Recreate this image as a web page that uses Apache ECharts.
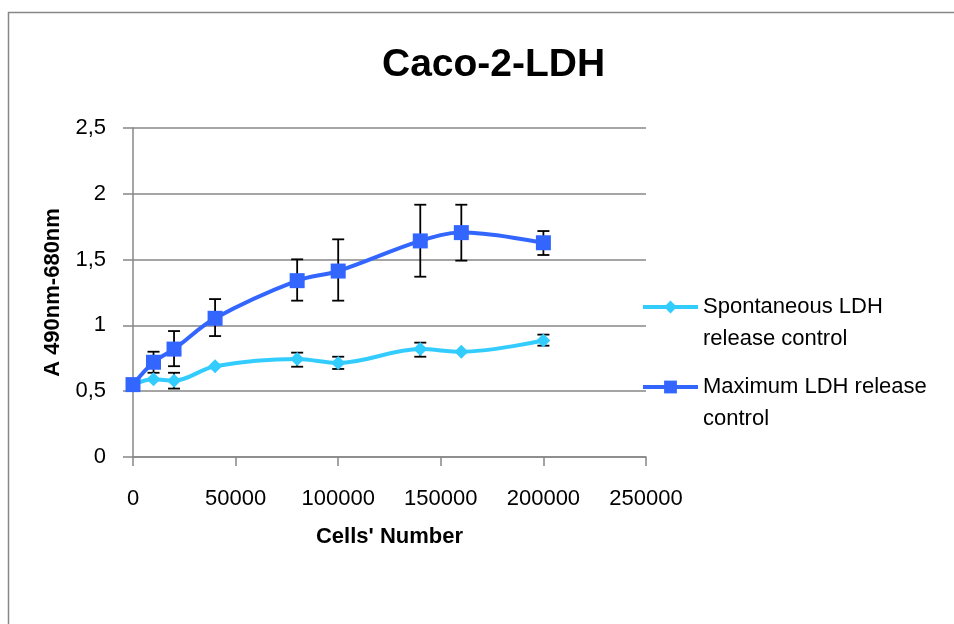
<!DOCTYPE html>
<html>
<head>
<meta charset="utf-8">
<script src="https://cdn.jsdelivr.net/npm/echarts@6/dist/echarts.min.js"></script>
<style>html,body{margin:0;padding:0;background:#fff}#c{width:954px;height:624px}</style>
</head>
<body>
<div id="c"></div>
<script>
const cells = [0, 10000, 20000, 40000, 80000, 100000, 140000, 160000, 200000];
const spontaneous = [0.55, 0.59, 0.58, 0.69, 0.745, 0.715, 0.82, 0.80, 0.885];
const spontaneousLow = [null, null, 0.52, null, 0.686, 0.669, 0.762, null, 0.846];
const spontaneousHigh = [null, null, 0.64, null, 0.793, 0.762, 0.869, null, 0.93];
const maximum = [0.55, 0.72, 0.82, 1.054, 1.34, 1.413, 1.642, 1.705, 1.628];
const maximumLow = [null, 0.64, 0.69, 0.919, 1.188, 1.188, 1.37, 1.492, 1.535];
const maximumHigh = [null, 0.80, 0.957, 1.2, 1.502, 1.654, 1.917, 1.917, 1.717];
const seriesNames = ['Spontaneous LDH release control', 'Maximum LDH release control'];
const legendLines = {
  'Spontaneous LDH release control': ['Spontaneous LDH', 'release control'],
  'Maximum LDH release control': ['Maximum LDH release', 'control']
};
const xTicks = { min: 0, max: 250000, interval: 50000 };
const yTicks = { min: 0, max: 2.5, interval: 0.5 };

const FONT = 'Liberation Sans';
const GRAY = '#878787';

function errData(lo, hi) {
  const out = [];
  cells.forEach((c, i) => { if (lo[i] != null) out.push([c, lo[i], hi[i]]); });
  return out;
}
function renderErr(params, api) {
  const x = api.value(0), lo = api.value(1), hi = api.value(2);
  const p1 = api.coord([x, hi]);
  const p2 = api.coord([x, lo]);
  const w = 6;
  const st = { stroke: '#000', lineWidth: 1.8 };
  return {
    type: 'group',
    children: [
      { type: 'line', shape: { x1: p1[0], y1: p1[1], x2: p2[0], y2: p2[1] }, style: st },
      { type: 'line', shape: { x1: p1[0] - w, y1: p1[1], x2: p1[0] + w, y2: p1[1] }, style: st },
      { type: 'line', shape: { x1: p2[0] - w, y1: p2[1], x2: p2[0] + w, y2: p2[1] }, style: st }
    ]
  };
}

const chart = echarts.init(document.getElementById('c'), null, { renderer: 'canvas' });
const legendBase = {
  orient: 'vertical',
  left: 641,
  padding: 0,
  itemWidth: 55,
  itemHeight: 16,
  itemGap: 0,
  lineStyle: { width: 4 },
  formatter: n => '\n' + legendLines[n].join('\n'),
  textStyle: { fontFamily: FONT, fontSize: 22, color: '#000', lineHeight: 32 }
};
chart.setOption({
  animation: false,
  backgroundColor: '#fff',
  graphic: [{
    type: 'rect', silent: true, z: -10,
    shape: { x: 8.5, y: 12.5, width: 2000, height: 2000 },
    style: { fill: 'none', stroke: GRAY, lineWidth: 1.5 }
  }],
  title: {
    text: 'Caco-2-LDH',
    left: 377, top: 41,
    textStyle: { fontFamily: FONT, fontWeight: 'bold', fontSize: 39, color: '#000' }
  },
  legend: [
    Object.assign({}, legendBase, { top: 259, data: [seriesNames[0]] }),
    Object.assign({}, legendBase, { top: 339, data: [seriesNames[1]] })
  ],
  grid: { left: 133, right: 308, top: 128, bottom: 167, containLabel: false },
  xAxis: {
    type: 'value', min: xTicks.min, max: xTicks.max, interval: xTicks.interval,
    name: "Cells' Number", nameLocation: 'middle', nameGap: 69,
    nameTextStyle: { fontFamily: FONT, fontWeight: 'bold', fontSize: 22, color: '#000' },
    axisLine: { lineStyle: { color: GRAY, width: 1.5 } },
    axisTick: { show: true, length: 9, lineStyle: { color: GRAY, width: 1.5 } },
    axisLabel: { fontFamily: FONT, fontSize: 22, color: '#000', margin: 31,
      formatter: v => String(v) },
    splitLine: { show: false }
  },
  yAxis: {
    type: 'value', min: yTicks.min, max: yTicks.max, interval: yTicks.interval,
    name: 'A 490nm-680nm', nameLocation: 'middle', nameGap: 69, nameRotate: 90,
    nameTextStyle: { fontFamily: FONT, fontWeight: 'bold', fontSize: 22, color: '#000' },
    axisLine: { show: true, lineStyle: { color: GRAY, width: 1.5 } },
    axisTick: { show: true, length: 10, lineStyle: { color: GRAY, width: 1.5 } },
    axisLabel: { fontFamily: FONT, fontSize: 22, color: '#000', margin: 27,
      formatter: v => String(v).replace('.', ',') },
    splitLine: { show: true, lineStyle: { color: GRAY, width: 1.5 } }
  },
  series: [
    {
      name: 'errSpont', type: 'custom', renderItem: renderErr, z: 1,
      encode: { x: 0, y: [1, 2] }, data: errData(spontaneousLow, spontaneousHigh), silent: true
    },
    {
      name: 'errMax', type: 'custom', renderItem: renderErr, z: 1,
      encode: { x: 0, y: [1, 2] }, data: errData(maximumLow, maximumHigh), silent: true
    },
    {
      name: seriesNames[0], type: 'line', z: 3, smooth: 0.35,
      data: cells.map((c, i) => [c, spontaneous[i]]),
      symbol: 'diamond', symbolSize: 14,
      lineStyle: { color: '#33CCFF', width: 4 },
      itemStyle: { color: '#33CCFF' }
    },
    {
      name: seriesNames[1], type: 'line', z: 4, smooth: 0.35,
      data: cells.map((c, i) => [c, maximum[i]]),
      symbol: 'rect', symbolSize: 15,
      lineStyle: { color: '#3366FF', width: 4 },
      itemStyle: { color: '#3366FF' }
    }
  ]
});
</script>
</body>
</html>
